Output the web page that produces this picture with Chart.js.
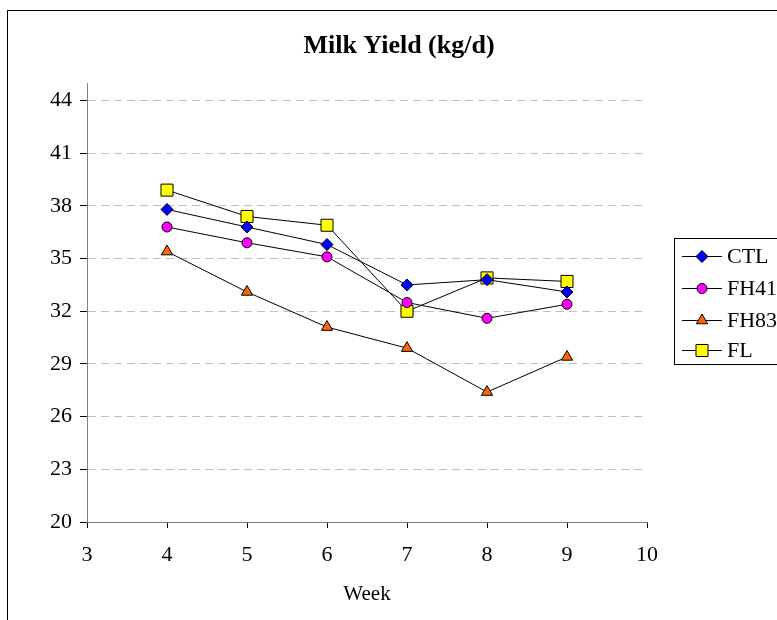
<!DOCTYPE html>
<html>
<head>
<meta charset="utf-8">
<script src="https://cdn.jsdelivr.net/npm/chart.js@4"></script>
<style>
html,body{margin:0;padding:0;background:#fff;}
#wrap{width:777px;height:620px;position:relative;}
</style>
</head>
<body>
<div id="wrap"><canvas id="c" width="777" height="620"></canvas></div>
<script>
const weeks = [4, 5, 6, 7, 8, 9];
const ctl  = [37.8, 36.8, 35.8, 33.5, 33.8, 33.1];
const fh41 = [36.8, 35.9, 35.1, 32.5, 31.6, 32.4];
const fh83 = [35.4, 33.1, 31.1, 29.9, 27.4, 29.4];
const fl   = [38.9, 37.4, 36.9, 32.0, 33.9, 33.7];
const yTicks = [20, 23, 26, 29, 32, 35, 38, 41, 44];
const seriesNames = ['CTL', 'FH41', 'FH83', 'FL'];
const chartTitle = 'Milk Yield (kg/d)';
const xTitle = 'Week';

const serif = "'Liberation Serif', 'Times New Roman', serif";

function pts(vals){ return weeks.map((w,i)=>({x:w, y:vals[i]})); }

const styles = [
  {color:'#0000ff', style:'rectRot', r:6},
  {color:'#ff00ff', style:'circle', r:5},
  {color:'#ff6600', style:'triangle', r:6.5},
  {color:'#ffff00', style:'rect', r:8.5}
];
const allVals = [ctl, fh41, fh83, fl];

const datasets = allVals.map((v,i)=>({
  label: seriesNames[i],
  data: pts(v),
  borderColor:'#000000',
  borderWidth:1,
  backgroundColor: styles[i].color,
  pointBackgroundColor: styles[i].color,
  pointBorderColor:'#000000',
  pointBorderWidth:1,
  pointStyle: styles[i].style,
  pointRadius: styles[i].r,
  pointHoverRadius: styles[i].r,
  showLine:true,
  tension:0
}));

const framePlugin = {
  id:'frame',
  beforeDraw(chart){
    const ctx = chart.ctx;
    ctx.save();
    ctx.fillStyle='#fff';
    ctx.fillRect(0,0,chart.width,chart.height);
    ctx.strokeStyle='#000';
    ctx.lineWidth=1;
    ctx.strokeRect(7.5,10.5,900,800);
    // title
    ctx.fillStyle='#000';
    ctx.font="bold 26px "+serif;
    ctx.textAlign='center';
    ctx.textBaseline='middle';
    ctx.fillText(chartTitle,399,46);
    ctx.restore();
  },
  afterDraw(chart){
    const ctx = chart.ctx;
    ctx.save();
    // legend box
    ctx.strokeStyle='#000';
    ctx.lineWidth=1;
    ctx.strokeRect(674.5,238.5,200,126);
    const ys=[256,288,320,350];
    chart.data.datasets.forEach((ds,i)=>{
      const y=ys[i];
      ctx.strokeStyle='#000';
      ctx.lineWidth=1;
      ctx.beginPath();
      ctx.moveTo(682,y+0.5);
      ctx.lineTo(722,y+0.5);
      ctx.stroke();
      ctx.fillStyle=ds.pointBackgroundColor;
      ctx.strokeStyle='#000';
      Chart.helpers.drawPoint(ctx,{pointStyle:ds.pointStyle,radius:ds.pointRadius,rotation:0,borderWidth:1},702,y+0.5);
      ctx.fillStyle='#000';
      ctx.font="22px "+serif;
      ctx.textBaseline='middle';
      ctx.textAlign='left';
      ctx.fillText(ds.label,727,y+1);
    });
    ctx.restore();
  }
};

new Chart(document.getElementById('c'),{
  type:'scatter',
  data:{datasets},
  plugins:[framePlugin],
  options:{
    responsive:false,
    animation:false,
    events:[],
    layout:{padding:{top:83,left:0,right:130,bottom:0}},
    plugins:{
      legend:{display:false},
      tooltip:{enabled:false},
      title:{display:false}
    },
    scales:{
      x:{
        type:'linear',
        min:3,max:10,
        ticks:{stepSize:1,color:'#000',font:{family:serif,size:22},padding:14,maxRotation:0},
        grid:{drawOnChartArea:false,drawTicks:true,tickLength:6,tickColor:'#000',tickWidth:1},
        border:{display:true,color:'#808080',width:1},
        title:{display:true,text:xTitle,color:'#000',font:{family:serif,size:21},padding:{top:10,bottom:13}},
        afterFit(s){ s.height = 98; }
      },
      y:{
        type:'linear',
        min:20,max:45,
        afterBuildTicks(s){ s.ticks = yTicks.map(v=>({value:v})); },
        ticks:{color:'#000',font:{family:serif,size:22},padding:8},
        grid:{color:'#c0c0c0',lineWidth:1,drawTicks:true,tickLength:7,tickColor:'#000',tickWidth:1,tickBorderDash:[]},
        border:{display:true,color:'#808080',width:1,dash:[8,5]},
        afterFit(s){ s.width = 87; }
      }
    }
  }
});
</script>
</body>
</html>
